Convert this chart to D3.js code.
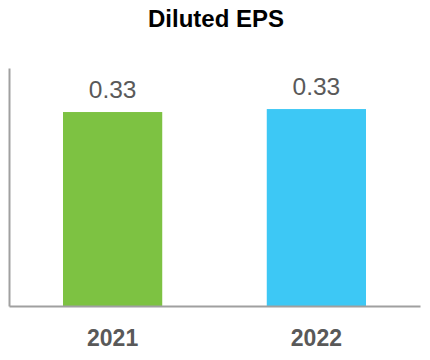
<!DOCTYPE html>
<html>
<head>
<meta charset="utf-8">
<script src="https://cdn.jsdelivr.net/npm/d3@7"></script>
<style>
  html, body { margin: 0; padding: 0; background: #fff; }
  svg { display: block; font-family: Arial, "Liberation Sans", sans-serif; }
</style>
</head>
<body>
<svg id="chart" width="430" height="360"></svg>
<script>
const title = "Diluted EPS";
const categories = ["2021", "2022"];
const values = [0.326, 0.331];
const colors = ["#7dc242", "#3dc8f5"];
const yDomain = [0, 0.4];

const svg = d3.select("#chart");
const margin = { left: 9, right: 10, top: 68, bottom: 54 };
const W = 430, H = 360;

const x = d3.scaleBand()
  .domain(categories)
  .range([margin.left, W - margin.right])
  .paddingInner(0.513)
  .paddingOuter(0.265);

const y = d3.scaleLinear()
  .domain(yDomain)
  .range([H - margin.bottom, margin.top]);

svg.append("text")
  .attr("x", 216).attr("y", 27)
  .attr("text-anchor", "middle")
  .attr("font-size", 24).attr("font-weight", "bold")
  .attr("fill", "#000")
  .text(title);

svg.selectAll("rect.bar")
  .data(values)
  .join("rect")
  .attr("class", "bar")
  .attr("x", (d, i) => x(categories[i]))
  .attr("width", x.bandwidth())
  .attr("y", d => y(d))
  .attr("height", d => y(0) - y(d))
  .attr("fill", (d, i) => colors[i]);

svg.selectAll("text.val")
  .data(values)
  .join("text")
  .attr("class", "val")
  .attr("x", (d, i) => x(categories[i]) + x.bandwidth() / 2)
  .attr("y", d => y(d) - 14.5)
  .attr("text-anchor", "middle")
  .attr("font-size", 24.5)
  .attr("fill", "#595959")
  .text(d => d3.format(".2f")(d));

const xAxis = d3.axisBottom(x).tickSize(0).tickPadding(24);
const gx = svg.append("g")
  .attr("transform", `translate(0,${y(0)})`)
  .call(xAxis);
gx.select(".domain").attr("stroke", "#a0a0a0").attr("stroke-width", 2);
gx.selectAll("text")
  .attr("font-size", 23).attr("font-weight", "bold")
  .attr("fill", "#595959")
  .attr("font-family", "Arial, 'Liberation Sans', sans-serif");

const yAxis = d3.axisLeft(y).tickValues([]).tickSizeOuter(0);
const gy = svg.append("g")
  .attr("transform", `translate(${margin.left},0)`)
  .call(yAxis);
gy.select(".domain").attr("stroke", "#a0a0a0").attr("stroke-width", 2);
</script>
</body>
</html>
